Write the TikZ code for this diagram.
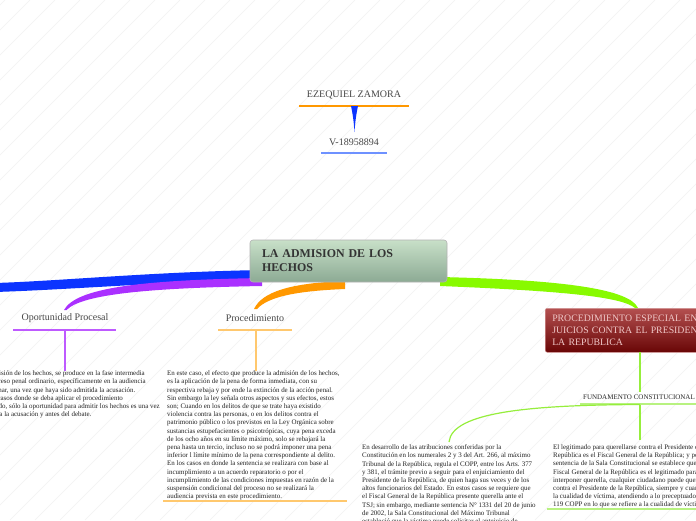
\documentclass[tikz,border=0pt]{standalone}
\usepackage{fontspec}
\setmainfont{Liberation Serif}
\usetikzlibrary{calc}
\pgfdeclarelayer{back0}
\pgfdeclarelayer{background}
\pgfsetlayers{back0,background,main}
\definecolor{bandblue}{RGB}{12,52,255}
\definecolor{bandpurple}{RGB}{170,48,255}
\definecolor{bandorange}{RGB}{255,152,0}
\definecolor{bandgreen}{RGB}{136,250,0}
\definecolor{linepurple}{RGB}{190,90,255}
\definecolor{lineorange}{RGB}{255,200,110}
\definecolor{linegreen}{RGB}{150,238,60}
\definecolor{ulgreen}{RGB}{184,242,128}
\definecolor{lineblue}{RGB}{110,145,255}
\definecolor{rootTop}{RGB}{200,224,200}
\definecolor{rootBot}{RGB}{140,170,148}
\definecolor{redTop}{RGB}{180,80,80}
\definecolor{redBot}{RGB}{105,6,6}
\definecolor{redtext}{RGB}{240,200,200}
\definecolor{txt}{RGB}{35,35,35}
\begin{document}
\begin{tikzpicture}[x=1pt,y=-1pt,
  smalltext/.style={font=\fontsize{6.95}{8.2}\selectfont, align=left, inner sep=0pt, anchor=north west, text=txt},
  topic/.style={font=\fontsize{10}{12}\selectfont, text=black!72, inner sep=1pt},
  hatch/.style={draw=black!5, line width=0.4pt},
  branchline/.style={line width=1.3pt},
  uline/.style={line width=1.6pt}
]
\useasboundingbox (0,0) rectangle (696,520);
\begin{pgfonlayer}{back0}
\fill[white] (0,0) rectangle (696,520);
\begin{scope}
\clip (0,0) rectangle (696,520);
\foreach \i in {-540,-515,...,720} \draw[hatch] (\i,520) -- (\i+520,0);
\end{scope}
\end{pgfonlayer}

% top names
\node[topic] (ez) at (354,95) {EZEQUIEL ZAMORA};
\node[topic] (vnum) at (354,142) {V-18958894};
\draw[bandorange, line width=1.2pt] (299,106) -- (409,106);
\draw[lineblue, line width=1.8pt] (321,153) -- (387,153);
\fill[bandblue] (351,106) .. controls (353,115) and (354,124) .. (354.5,132) .. controls (355,124) and (356,115) .. (358,106) -- cycle;

% root
\node[draw=black!30, line width=0.6pt, rounded corners=3pt, top color=rootTop, bottom color=rootBot,
      minimum width=197pt, minimum height=42pt, text width=173pt, inner xsep=12pt, align=left,
      font=\fontsize{11.9}{14}\selectfont\bfseries, text=black!80] (root) at (348.5,261)
      {LA ADMISION DE LOS\\HECHOS};

% topics
\node[topic] (op) at (65,318) {Oportunidad Procesal};
\node[topic] (proc) at (255,318) {Procedimiento};
\draw[linepurple, uline] (13,330) -- (116,330);
\draw[lineorange, uline] (218,330) -- (292,330);
\coordinate (opu) at (65,330);
\coordinate (procu) at (256,330);

\node[smalltext] (optext) at (-22,370.5) {La admisión de los hechos, se produce en la fase intermedia\\
del proceso penal ordinario, específicamente en la audiencia\\
preliminar, una vez que haya sido admitida la acusación.\\
En los casos donde se deba aplicar el procedimiento\\
abreviado, sólo la oportunidad para admitir los hechos es una vez\\
admitida la acusación y antes del debate.};

\node[smalltext] (proctext) at (167,370.5) {En este caso, el efecto que produce la admisión de los hechos,\\
es la aplicación de la pena de forma inmediata, con su\\
respectiva rebaja y por ende la extinción de la acción penal.\\
Sin embargo la ley señala otros aspectos y sus efectos, estos\\
son; Cuando en los delitos de que se trate haya existido\\
violencia contra las personas, o en los delitos contra el\\
patrimonio público o los previstos en la Ley Orgánica sobre\\
sustancias estupefacientes o psicotrópicas, cuya pena exceda\\
de los ocho años en su límite máximo, solo se rebajará la\\
pena hasta un tercio, incluso no se podrá imponer una pena\\
inferior l límite mínimo de la pena correspondiente al delito.\\
En los casos en donde la sentencia se realizara con base al\\
incumplimiento a un acuerdo reparatorio o por el\\
incumplimiento de las condiciones impuestas en razón de la\\
suspensión condicional del proceso no se realizará la\\
audiencia prevista en este procedimiento.};
\draw[lineorange, line width=2pt] (163,501) -- (347,501);

\draw[linepurple, branchline] (opu) -- (optext.north -| opu);
\draw[lineorange, branchline] (procu) -- (proctext.north -| procu);

% red node
\node[draw=redTop!60!white, line width=0.5pt, rounded corners=2pt, top color=redTop, bottom color=redBot,
      anchor=north west, minimum width=200pt, minimum height=44pt, text width=190pt, inner xsep=7pt, align=left,
      font=\fontsize{9.8}{12}\selectfont, text=redtext] (pres) at (545,308)
      {PROCEDIMIENTO ESPECIAL EN\\JUICIOS CONTRA EL PRESIDENTE DE\\LA REPUBLICA};

\node[font=\fontsize{7}{8}\selectfont, text=black!85, inner sep=0pt] (fund) at (639,397) {FUNDAMENTO CONSTITUCIONAL};
\draw[ulgreen, line width=2pt] (580,404) -- (700,404);
\coordinate (fundu) at (640,404.5);
\draw[linegreen, branchline] (640,352) -- (640,392);

\node[smalltext] (midtext) at (362,444.5) {En desarrollo de las atribuciones conferidas por la\\
Constitución en los numerales 2 y 3 del Art. 266, al máximo\\
Tribunal de la República, regula el COPP, entre los Arts. 377\\
y 381, el trámite previo a seguir para el enjuiciamiento del\\
Presidente de la República, de quien haga sus veces y de los\\
altos funcionarios del Estado. En estos casos se requiere que\\
el Fiscal General de la República presente querella ante el\\
TSJ; sin embargo, mediante sentencia N° 1331 del 20 de junio\\
de 2002, la Sala Constitucional del Máximo Tribunal\\
estableció que la víctima puede solicitar el antejuicio de};

\node[smalltext] (righttext) at (553,444.5) {El legitimado para querellarse contra el Presidente de la\\
República es el Fiscal General de la República; y por otra parte\\
sentencia de la Sala Constitucional se establece que si bien el\\
Fiscal General de la República es el legitimado para\\
interponer querella, cualquier ciudadano puede querellarse\\
contra el Presidente de la República, siempre y cuando tenga\\
la cualidad de víctima, atendiendo a lo preceptuado en el Art.\\
119 COPP en lo que se refiere a la cualidad de víctima.};
\draw[ulgreen, line width=2pt] (547,509) -- (700,509);

\draw[linegreen, branchline] (fundu) -- (640,440);
\draw[linegreen, line width=1.2pt] (fundu) .. controls (530,405) and (452,412) .. (449,442);

% main branches
\begin{pgfonlayer}{background}
\fill[bandblue] (262,270) .. controls (150,272) and (60,281) .. (-5,283) -- (-5,292) .. controls (60,290) and (150,283) .. (262,279) -- cycle;
\fill[bandpurple] (262,278) .. controls (140,280) and (76,288) .. (64,310) -- (66.5,310) .. controls (82,294) and (150,288) .. (262,286) -- cycle;
\fill[bandorange] (345,281) .. controls (290,283) and (262,292) .. (254,309) -- (257,309) .. controls (268,297) and (295,291) .. (345,289) -- cycle;
\fill[bandgreen] (440,277) .. controls (570,280) and (630,290) .. (638,308) -- (635,308) .. controls (622,297) and (565,291) .. (440,286) -- cycle;
\end{pgfonlayer}
\end{tikzpicture}
\end{document}
